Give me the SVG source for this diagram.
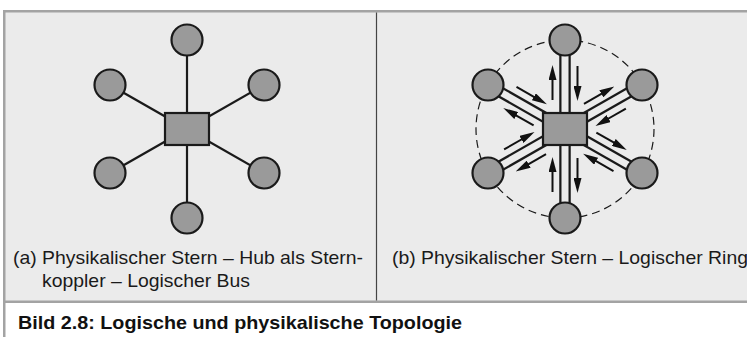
<svg xmlns="http://www.w3.org/2000/svg" width="747" height="337" viewBox="0 0 747 337">
<defs>
<style>
.node{fill:#9a9a9a;stroke:#1a1a1a;stroke-width:2.2}
.link{stroke:#1a1a1a;stroke-width:2.2;fill:none}
.pipeo{stroke:#1a1a1a;stroke-width:11.5;fill:none}
.pipei{stroke:#ebebeb;stroke-width:7;fill:none}
.arr{stroke:#111;stroke-width:2;fill:none;marker-end:url(#ah)}
.ring{fill:none;stroke:#1a1a1a;stroke-width:1.2;stroke-dasharray:8 5}
.lbl{font-family:"Liberation Sans",Arial,sans-serif;font-size:19px;fill:#1a1a1a}
.cap{font-family:"Liberation Sans",Arial,sans-serif;font-size:19px;font-weight:bold;fill:#111}
</style>
<marker id="ah" viewBox="0 0 15 8" markerWidth="15" markerHeight="8" refX="7" refY="4" orient="auto" markerUnits="userSpaceOnUse">
<path d="M0,0 L15,4 L0,8 Z" fill="#111"/>
</marker>
</defs>
<rect x="0" y="0" width="747" height="337" fill="#ffffff"/>
<g id="frame">
<rect x="4.25" y="11.25" width="760" height="290.5" fill="#ebebeb" stroke="#a3a3a3" stroke-width="2.5"/>
<line x1="4.25" y1="301" x2="4.25" y2="337" stroke="#a3a3a3" stroke-width="2.5"/>
<line x1="376.5" y1="12.5" x2="376.5" y2="300.5" stroke="#444" stroke-width="1.2"/>
</g>
<g id="connectors">
<g id="star-links">
<line class="link" x1="187" y1="40" x2="187" y2="129"/>
<line class="link" x1="187" y1="218" x2="187" y2="129"/>
<line class="link" x1="110" y1="85" x2="187" y2="129"/>
<line class="link" x1="264" y1="85" x2="187" y2="129"/>
<line class="link" x1="110" y1="173" x2="187" y2="129"/>
<line class="link" x1="264" y1="173" x2="187" y2="129"/>
</g>
<circle class="ring" cx="565" cy="129" r="89"/>
<g id="pipes">
<line class="pipeo" x1="565" y1="40" x2="565" y2="218"/>
<line class="pipeo" x1="488" y1="85" x2="642" y2="173"/>
<line class="pipeo" x1="642" y1="85" x2="488" y2="173"/>
<line class="pipei" x1="565" y1="40" x2="565" y2="218"/>
<line class="pipei" x1="488" y1="85" x2="642" y2="173"/>
<line class="pipei" x1="642" y1="85" x2="488" y2="173"/>
</g>
<g id="arrows">
<line class="arr" x1="552.5" y1="100" x2="552.5" y2="73"/>
<line class="arr" x1="577.5" y1="66" x2="577.5" y2="93"/>
<line class="arr" x1="577.5" y1="158" x2="577.5" y2="185"/>
<line class="arr" x1="552.5" y1="192" x2="552.5" y2="165"/>
<line class="arr" x1="583.97" y1="103.77" x2="607.4" y2="90.37"/>
<line class="arr" x1="625.88" y1="108.6" x2="602.45" y2="122"/>
<line class="arr" x1="533.63" y1="125.47" x2="510.2" y2="112.07"/>
<line class="arr" x1="516.52" y1="86.9" x2="539.95" y2="100.3"/>
<line class="arr" x1="546.03" y1="154.23" x2="522.6" y2="167.63"/>
<line class="arr" x1="504.12" y1="149.4" x2="527.55" y2="136"/>
<line class="arr" x1="596.37" y1="132.53" x2="619.8" y2="145.93"/>
<line class="arr" x1="613.48" y1="171.1" x2="590.05" y2="157.7"/>
</g>
</g>
<g id="hub-a"><rect class="node" x="165" y="113" width="44" height="32"/></g>
<g id="a-top"><circle class="node" cx="187" cy="40" r="15.5"/></g>
<g id="a-ul"><circle class="node" cx="110" cy="85" r="15.5"/></g>
<g id="a-ur"><circle class="node" cx="264" cy="85" r="15.5"/></g>
<g id="a-ll"><circle class="node" cx="110" cy="173" r="15.5"/></g>
<g id="a-lr"><circle class="node" cx="264" cy="173" r="15.5"/></g>
<g id="a-bottom"><circle class="node" cx="187" cy="218" r="15.5"/></g>
<g id="hub-b"><rect class="node" x="543" y="113" width="44" height="32"/></g>
<g id="b-top"><circle class="node" cx="565" cy="40" r="15.5"/></g>
<g id="b-ul"><circle class="node" cx="488" cy="85" r="15.5"/></g>
<g id="b-ur"><circle class="node" cx="642" cy="85" r="15.5"/></g>
<g id="b-ll"><circle class="node" cx="488" cy="173" r="15.5"/></g>
<g id="b-lr"><circle class="node" cx="642" cy="173" r="15.5"/></g>
<g id="b-bottom"><circle class="node" cx="565" cy="218" r="15.5"/></g>
<g id="labels">
<text class="lbl" x="13" y="264" textLength="350" lengthAdjust="spacingAndGlyphs">(a) Physikalischer Stern – Hub als Stern-</text>
<text class="lbl" x="42" y="287" textLength="208" lengthAdjust="spacingAndGlyphs">koppler – Logischer Bus</text>
<text class="lbl" x="392" y="264" textLength="356" lengthAdjust="spacingAndGlyphs">(b) Physikalischer Stern – Logischer Ring</text>
<text class="cap" x="18" y="329" textLength="444" lengthAdjust="spacingAndGlyphs">Bild 2.8:  Logische und physikalische Topologie</text>
</g>
</svg>
